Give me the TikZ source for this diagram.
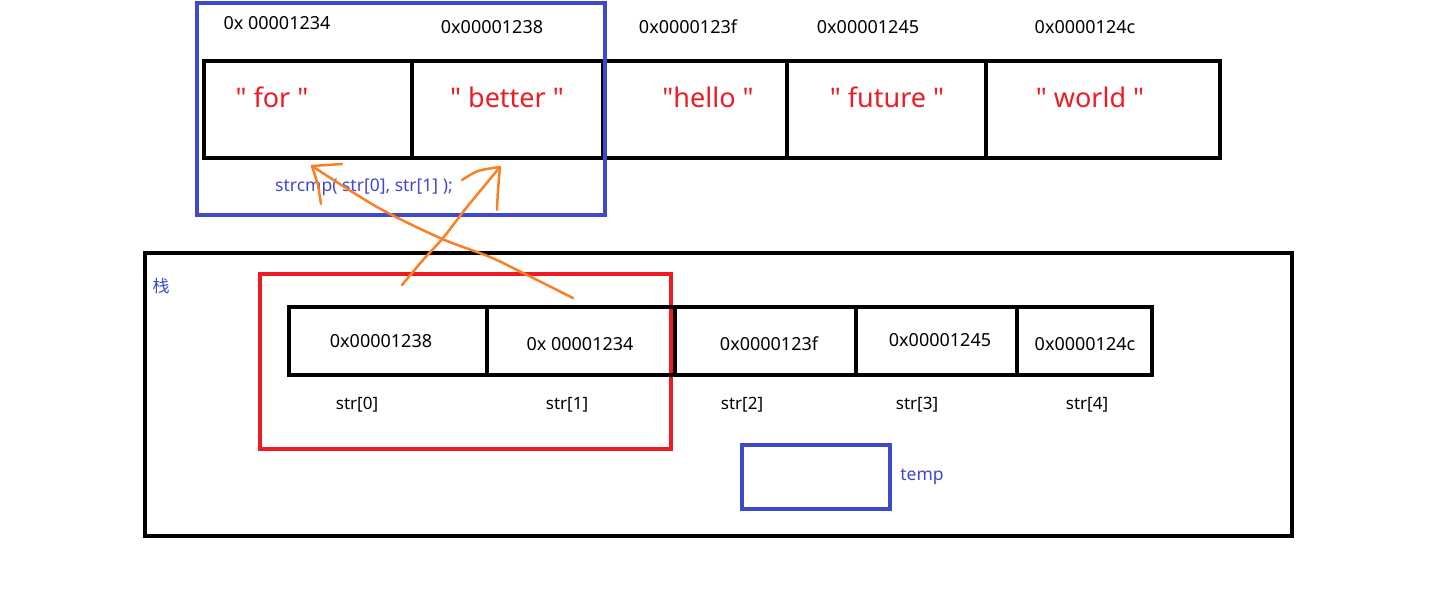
\documentclass[tikz,border=0pt]{standalone}
\usepackage{fontspec}
\setmainfont{Noto Sans}[Ligatures=TeXOff]
\newfontfamily\cjk{Noto Sans CJK SC}
\definecolor{myblue}{RGB}{64,72,204}
\definecolor{myred}{RGB}{237,28,36}
\definecolor{myorange}{RGB}{250,128,40}
\begin{document}
\begin{tikzpicture}[x=1pt,y=-1pt,
  blk/.style={draw=black,line width=4pt},
  addr/.style={font=\fontsize{18}{20}\selectfont,text=black,inner sep=0pt},
  strv/.style={font=\fontsize{27}{30}\selectfont,text=myred,inner sep=0pt},
  idx/.style={font=\fontsize{17}{20}\selectfont,text=black,inner sep=0pt},
  bluetxt/.style={font=\fontsize{17.5}{20}\selectfont,text=myblue,inner sep=0pt},
  arr/.style={draw=myorange,line width=2.5pt,line cap=round,line join=round}]
\useasboundingbox (0,0) rectangle (1452,594);
% top memory row
\draw[blk] (204,61) rectangle (1220,158);
\foreach \x in {412,603,787,986} \draw[blk] (\x,61) -- (\x,158);
\node[addr] (a1) at (277,23) {0x 00001234};
\node[addr] (a2) at (492,27) {0x00001238};
\node[addr] (a3) at (688,27) {0x0000123f};
\node[addr] (a4) at (868,27) {0x00001245};
\node[addr] (a5) at (1085,27) {0x0000124c};
\node[strv] (s1) at (272,97) {" for "};
\node[strv] (s2) at (507,97) {" better "};
\node[strv] (s3) at (708,97) {"hello "};
\node[strv] (s4) at (887,97) {" future "};
\node[strv] (s5) at (1090,97) {" world "};
% blue frame
\draw[draw=myblue,line width=4pt] (197,3) rectangle (605,215);
\node[bluetxt,anchor=west] (cmp) at (275,187) {strcmp( str[0], str[1] );};
% stack frame
\draw[blk] (145,253) rectangle (1292,536);
\node[bluetxt,font=\cjk\fontsize{17}{20}\selectfont] (zhan) at (161,286) {栈};
\draw[draw=myred,line width=4pt] (260,274) rectangle (671,449);
\draw[blk] (289,307) rectangle (1152,375);
\foreach \x in {487,675,856,1017} \draw[blk] (\x,307) -- (\x,375);
\node[addr] (b1) at (381,341) {0x00001238};
\node[addr] (b2) at (580,344) {0x 00001234};
\node[addr] (b3) at (769,344) {0x0000123f};
\node[addr] (b4) at (940,340) {0x00001245};
\node[addr] (b5) at (1085,344) {0x0000124c};
\node[idx] (i0) at (357,405) {str[0]};
\node[idx] (i1) at (567,405) {str[1]};
\node[idx] (i2) at (742,405) {str[2]};
\node[idx] (i3) at (917,405) {str[3]};
\node[idx] (i4) at (1087,405) {str[4]};
\draw[draw=myblue,line width=4pt] (742,445) rectangle (890,509);
\node[bluetxt] (temp) at (922,477) {temp};
% orange hand-drawn arrows
\draw[arr] plot[smooth] coordinates {(573,298) (523,273) (490,257) (440,238) (377,207) (312,166)};
\draw[arr] (342,164) -- (312,166) -- (318,185) -- (321,204);
\draw[arr] plot[smooth] coordinates {(402,285) (423,260) (443,238) (467,207) (500,167)};
\draw[arr] plot[smooth] coordinates {(462,180) (478,171) (500,167)};
\draw[arr] plot[smooth] coordinates {(500,167) (498,190) (497,210)};
\end{tikzpicture}
\end{document}
